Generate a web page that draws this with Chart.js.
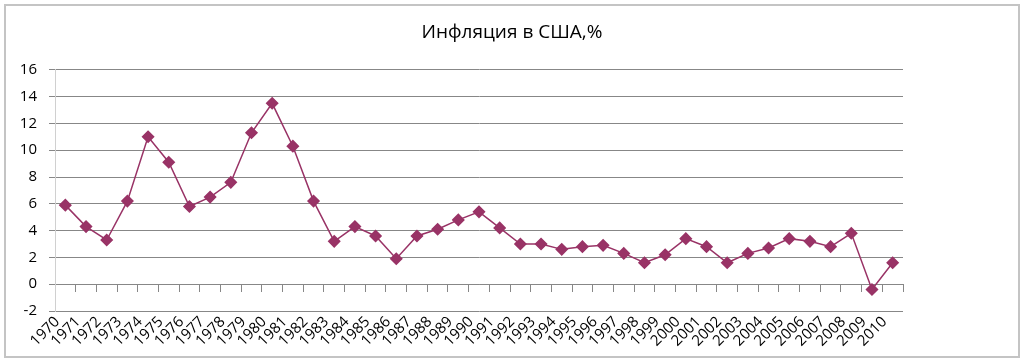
<!DOCTYPE html>
<html>
<head>
<meta charset="utf-8">
<script src="https://cdn.jsdelivr.net/npm/chart.js@4/dist/chart.umd.min.js"></script>
<style>
  html, body { margin: 0; padding: 0; background: #fff; }
  #frame {
    position: absolute; left: 4px; top: 4px;
    width: 1012px; height: 350px;
    border: 2px solid #c4c4c4;
  }
  #chart { display: block; }
</style>
</head>
<body>
<div id="frame"><canvas id="chart" width="1012" height="350"></canvas></div>
<script>
const years = [
  "1970","1971","1972","1973","1974","1975","1976","1977","1978","1979",
  "1980","1981","1982","1983","1984","1985","1986","1987","1988","1989",
  "1990","1991","1992","1993","1994","1995","1996","1997","1998","1999",
  "2000","2001","2002","2003","2004","2005","2006","2007","2008","2009","2010"
];
const inflation = [
  5.9, 4.3, 3.3, 6.2, 11.0, 9.1, 5.8, 6.5, 7.6, 11.3,
  13.5, 10.3, 6.2, 3.2, 4.3, 3.6, 1.9, 3.6, 4.1, 4.8,
  5.4, 4.2, 3.0, 3.0, 2.6, 2.8, 2.9, 2.3, 1.6, 2.2,
  3.4, 2.8, 1.6, 2.3, 2.7, 3.4, 3.2, 2.8, 3.8, -0.4, 1.6
];
const yMin = -2, yMax = 16, yStep = 2;
const title = "Инфляция в США,%";

const FONT = "'Open Sans', 'DejaVu Sans', sans-serif";
const plum = "#993366";
const gridGray = "#878787";

new Chart(document.getElementById("chart"), {
  type: "line",
  data: {
    labels: years,
    datasets: [{
      data: inflation,
      borderColor: plum,
      backgroundColor: plum,
      borderWidth: 1.5,
      pointStyle: "rectRot",
      pointRadius: 5.5,
      pointBackgroundColor: plum,
      pointBorderColor: plum,
      tension: 0,
      fill: false
    }]
  },
  options: {
    responsive: false,
    animation: false,
    layout: { padding: 0 },
    plugins: {
      legend: { display: false },
      tooltip: { enabled: false },
      title: {
        display: true,
        text: title,
        color: "#000",
        font: { family: FONT, size: 19, weight: "normal" },
        padding: { top: 15, bottom: 26 }
      }
    },
    scales: {
      // category axis crossing at y = 0, only tick marks
      x: {
        type: "category",
        position: { y: 0 },
        offset: true,
        afterFit: s => { s.height = 0; },
        ticks: { display: false },
        grid: { display: true, drawOnChartArea: false, drawTicks: true, tickLength: 7, offset: true, color: gridGray },
        border: { display: true, color: gridGray, width: 1 }
      },
      // year labels under the plot
      x2: {
        type: "category",
        position: "bottom",
        offset: true,
        afterFit: s => { s.height = 45; },
        grid: { display: false },
        border: { display: false },
        ticks: {
          autoSkip: false,
          minRotation: 45,
          maxRotation: 45,
          padding: -6,
          labelOffset: -8,
          color: "#000",
          font: { family: FONT, size: 15 }
        }
      },
      y: {
        min: yMin,
        max: yMax,
        afterFit: s => { s.width = 49; },
        ticks: {
          stepSize: yStep,
          padding: 12,
          color: "#000",
          font: { family: FONT, size: 15 }
        },
        grid: { color: gridGray, tickLength: 6 },
        border: { display: true, color: "#d0d0d0", width: 1 }
      },
      // empty right-hand space, as in the original
      yPad: {
        position: "right",
        afterFit: s => { s.width = 115; },
        ticks: { display: false },
        grid: { display: false },
        border: { display: false }
      }
    }
  }
});
</script>
</body>
</html>
